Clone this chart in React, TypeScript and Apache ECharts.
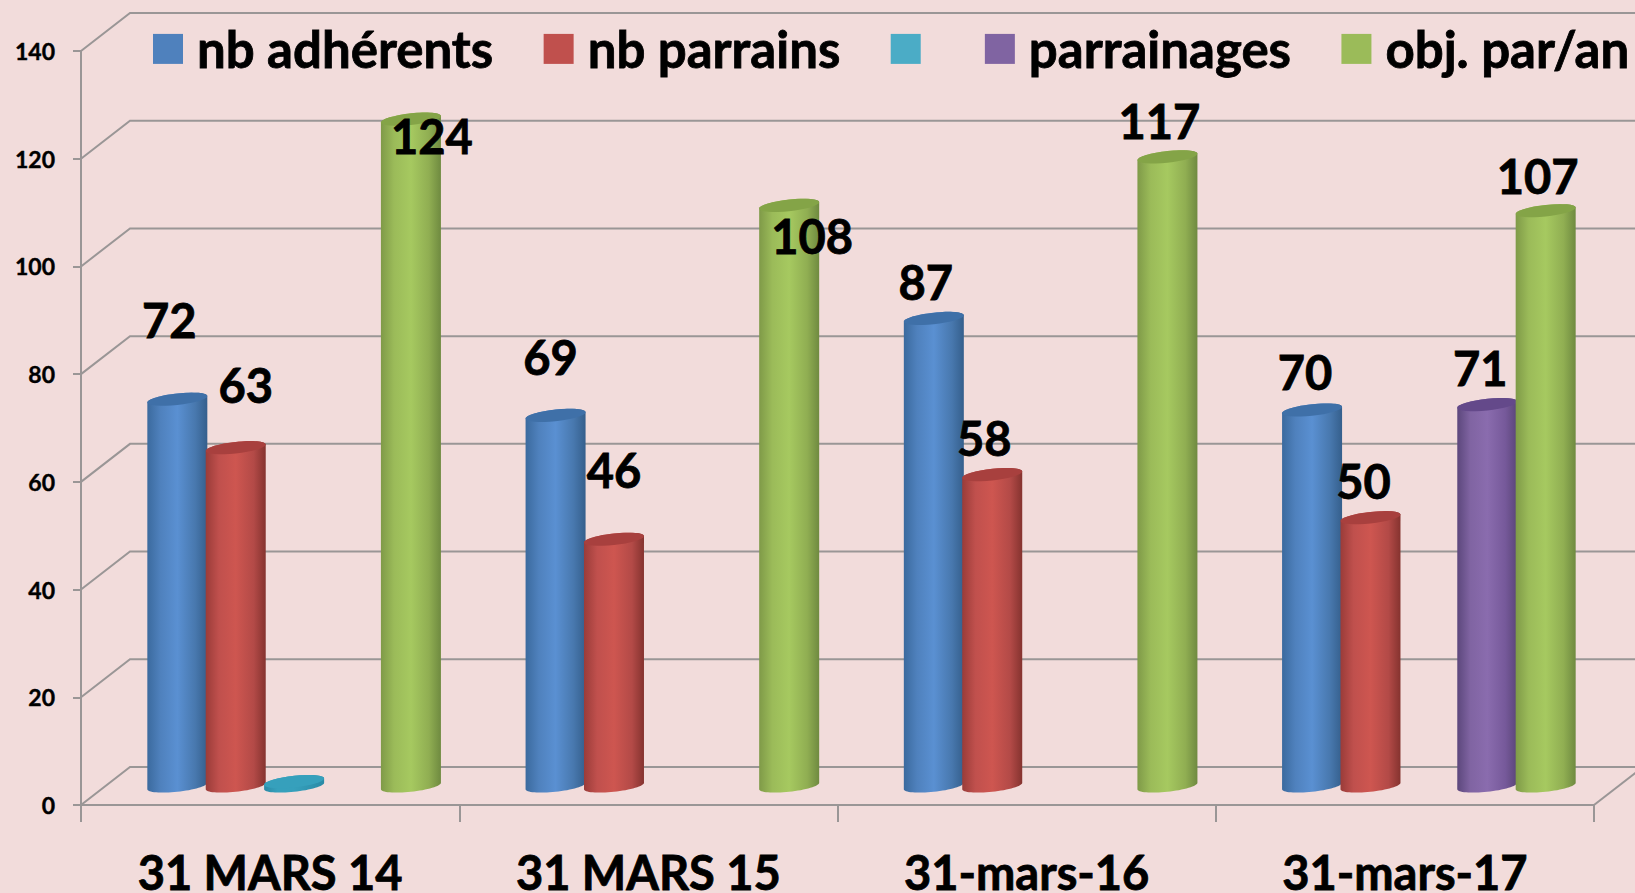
import React, { useEffect, useRef } from "react";
import * as echarts from "echarts";

const categories = ["31 MARS 14", "31 MARS 15", "31-mars-16", "31-mars-17"];
const yTicks = [0, 20, 40, 60, 80, 100, 120, 140];
const adherents = [72, 69, 87, 70];
const parrains = [63, 46, 58, 50];
const blank = [1, null, null, null];
const parrainages = [null, null, null, 71];
const objectif = [124, 108, 117, 107];

const FONT = "Lato, 'Open Sans', sans-serif";
const DEPTH_X = 49;
const DEPTH_Y = 38;
const BAR_STEP = 58.4;
const BAR_RX = 30;
const BAR_RY = 5.8;
const TILT = 3.2;
const HEAVY = { textBorderColor: "#000", textBorderWidth: 0.8 };

const seriesDefs = [
  { name: "nb adhérents", values: adherents, swatch: "#4F81BD", cap: "#3F70A8",
    stops: ["#3B6A9E", "#4F81BD", "#5A90D2", "#4878AE", "#355F8C"],
    nudges: [[-8, -77], [-5, -56], [-8, -34], [-7, -36]], showLabel: true },
  { name: "nb parrains", values: parrains, swatch: "#C0504D", cap: "#A8403E",
    stops: ["#9A3C39", "#C0504D", "#CE5650", "#B34A47", "#85332F"],
    nudges: [[10, -61], [0, -67], [-8, -35], [-7, -35]], showLabel: true },
  { name: " ", values: blank, swatch: "#4BACC6", cap: "#36A0BC",
    stops: ["#2A8AA6", "#36A0BC", "#36A0BC", "#2F93AF", "#2A8AA6"],
    nudges: [[0, 0], [0, 0], [0, 0], [0, 0]], showLabel: false },
  { name: "parrainages", values: parrainages, swatch: "#8064A2", cap: "#64498A",
    stops: ["#5C477C", "#8064A2", "#8A6CAE", "#76599A", "#5A4578"],
    nudges: [[0, 0], [0, 0], [0, 0], [-7, -35]], showLabel: true },
  { name: "obj. par/an", values: objectif, swatch: "#9BBB59", cap: "#84A447",
    stops: ["#7F9A48", "#9BBB59", "#A6C960", "#90AE52", "#6F8A40"],
    nudges: [[21, 19], [23, 33], [-8, -34], [-8, -33]], showLabel: true },
];

function ellipsePoints(cx: number, cy: number, from: number, to: number) {
  const pts: number[][] = [];
  const n = 32;
  for (let k = 0; k <= n; k++) {
    const t = from + ((to - from) * k) / n;
    pts.push([cx + BAR_RX * Math.cos(t), cy + BAR_RY * Math.sin(t) - TILT * Math.cos(t)]);
  }
  return pts;
}

function makeBarSeries(def: (typeof seriesDefs)[number], slot: number) {
  return {
    type: "custom",
    name: def.name,
    z: 5 + slot,
    clip: false,
    itemStyle: { color: def.swatch },
    encode: { x: 0, y: 1 },
    data: def.values
      .map((v, i) => [i, v])
      .filter((d) => d[1] !== null),
    renderItem: (_p: any, api: any) => {
      const cat = api.value(0);
      const val = api.value(1);
      const base = api.coord([cat, 0]);
      const top = api.coord([cat, val]);
      const cx = base[0] + DEPTH_X / 2 - 0.5 + (slot - 2) * BAR_STEP;
      const by = base[1] - DEPTH_Y / 2;
      const ty = top[1] - DEPTH_Y / 2 + 1;
      const fill = new echarts.graphic.LinearGradient(0, 0, 1, 0, [
        { offset: 0, color: def.stops[0] },
        { offset: 0.22, color: def.stops[1] },
        { offset: 0.5, color: def.stops[2] },
        { offset: 0.8, color: def.stops[3] },
        { offset: 1, color: def.stops[4] },
      ]);
      const lower = ellipsePoints(cx, by, 0, Math.PI);
      const upper = ellipsePoints(cx, ty, Math.PI, 2 * Math.PI);
      const children: any[] = [
        {
          type: "polygon",
          shape: { points: lower.concat(upper) },
          style: { fill },
        },
        {
          type: "polygon",
          shape: { points: ellipsePoints(cx, ty, 0, 2 * Math.PI) },
          style: { fill: def.cap },
        },
      ];
      if (def.showLabel) {
        const [dx, dy] = def.nudges[cat];
        children.push({
          type: "text",
          z2: 50,
          style: {
            text: String(val),
            x: cx + dx,
            y: ty + dy - 2,
            fill: "#000",
            stroke: "#000",
            lineWidth: 0.8,
            font: `bold 47px ${FONT}`,
            textAlign: "center",
            textVerticalAlign: "middle",
          },
        });
      }
      return { type: "group", children };
    },
  };
}

const wallSeries = {
  type: "custom",
  name: "wall",
  z: 1,
  clip: false,
  silent: true,
  encode: { x: 0, y: 1 },
  data: yTicks.map((t) => [0, t]),
  renderItem: (_p: any, api: any) => {
    const tick = api.value(1);
    const a = api.coord([0, tick]);
    const left = a[0] - api.size([1, 0])[0] / 2;
    const right = left + api.size([1, 0])[0] * categories.length;
    const y = a[1];
    const line = { stroke: "#9A9696", lineWidth: 2, fill: "none" };
    const children: any[] = [
      { type: "polyline", shape: { points: [[left, y], [left + DEPTH_X, y - DEPTH_Y], [right + DEPTH_X, y - DEPTH_Y]] }, style: line },
    ];
    if (tick === 0) {
      children.push({ type: "line", shape: { x1: right, y1: y, x2: right + DEPTH_X, y2: y - DEPTH_Y }, style: line });
    }
    return { type: "group", children };
  },
};

export default function App() {
  const ref = useRef<HTMLDivElement>(null);
  useEffect(() => {
    document.body.style.margin = "0";
    const chart = echarts.init(ref.current!, null, { renderer: "svg" });
    chart.setOption({
      animation: false,
      backgroundColor: "#F2DCDB",
      grid: { left: 81, right: 41, top: 51, bottom: 88, containLabel: false, outerBoundsMode: "none" },
      legend: {
        left: 153,
        top: 23,
        width: 1700,
        padding: 0,
        itemWidth: 30,
        itemHeight: 30,
        itemGap: 50,
        selectedMode: false,
        icon: "rect",
        data: seriesDefs.map((d) =>
          d.name === " "
            ? { name: d.name, textStyle: { fontSize: 36, padding: 0 } }
            : { name: d.name }
        ),
        textStyle: { fontFamily: FONT, fontWeight: "bold", fontSize: 51, color: "#000", padding: [0, 0, 8, 9], ...HEAVY },
      },
      xAxis: {
        type: "category",
        data: categories,
        axisLine: { show: true, lineStyle: { color: "#9A9696", width: 2 } },
        axisTick: { show: true, length: 17, alignWithLabel: false, lineStyle: { color: "#9A9696", width: 2 } },
        axisLabel: { fontFamily: FONT, fontWeight: "bold", fontSize: 47, lineHeight: 40, color: "#000", margin: 47, interval: 0, ...HEAVY },
        splitLine: { show: false },
      },
      yAxis: {
        type: "value",
        min: 0,
        max: 140,
        interval: 20,
        axisLine: { show: true, lineStyle: { color: "#9A9696", width: 2 } },
        axisTick: { show: true, length: 8, lineStyle: { color: "#9A9696", width: 2 } },
        axisLabel: { fontFamily: FONT, fontWeight: "bold", fontSize: 23, color: "#000", margin: 26, textBorderColor: "#000", textBorderWidth: 0.4 },
        splitLine: { show: false },
      },
      series: [wallSeries, ...seriesDefs.map((d, i) => makeBarSeries(d, i))],
    });
    return () => chart.dispose();
  }, []);
  return <div ref={ref} style={{ width: 1635, height: 893 }} />;
}
